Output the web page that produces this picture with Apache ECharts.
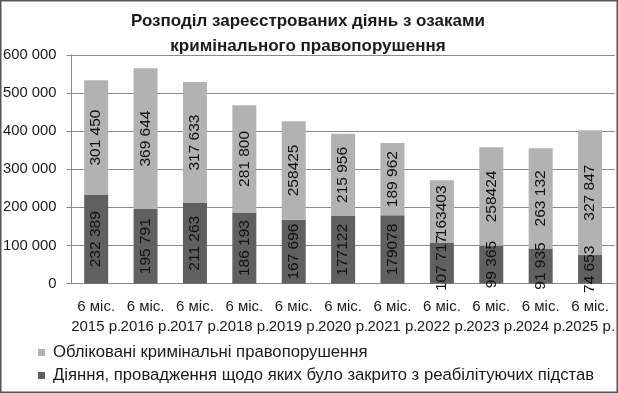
<!DOCTYPE html>
<html>
<head>
<meta charset="utf-8">
<script src="https://cdn.jsdelivr.net/npm/echarts@6/dist/echarts.min.js"></script>
<style>
html,body{margin:0;padding:0;background:#fff;}
#c{width:618px;height:393px;}
</style>
</head>
<body>
<div id="c"></div>
<script>
const categories = ["6 міс.\n2015 р.","6 міс.\n2016 р.","6 міс.\n2017 р.","6 міс.\n2018 р.","6 міс.\n2019 р.","6 міс.\n2020 р.","6 міс.\n2021 р.","6 міс.\n2022 р.","6 міс.\n2023 р.","6 міс.\n2024 р.","6 міс.\n2025 р."];
const closedValues = [232389,195791,211263,186193,167696,177122,179078,107717,99365,91935,74653];
const closedLabels = ["232 389","195 791","211 263","186 193","167 696","177122","179078","107 717","99 365","91 935","74 653"];
const recordedValues = [301450,369644,317633,281800,258425,215956,189962,163403,258424,263132,327847];
const recordedLabels = ["301 450","369 644","317 633","281 800","258425","215 956","189 962","163403","258424","263 132","327 847"];
const yTicks = [0,100000,200000,300000,400000,500000,600000];
const seriesNames = ["Обліковані кримінальні правопорушення","Діяння, провадження щодо яких було закрито з реабілітуючих підстав"];
const titleText = "Розподіл зареєстрованих діянь з озаками\nкримінального правопорушення";

const FONT = "Liberation Sans";
const chart = echarts.init(document.getElementById('c'), null, {renderer:'canvas'});
function fmt(v){ return v === 0 ? "0" : String(v).replace(/\B(?=(\d{3})+(?!\d))/g, " "); }
chart.setOption({
  animation:false,
  backgroundColor:'#fff',
  textStyle:{fontFamily:FONT},
  graphic:[{type:'rect', shape:{x:0.75,y:0.75,width:616.5,height:391.5}, style:{fill:null, stroke:'#555', lineWidth:1.5}, z:100}],
  title:{
    text:titleText, left:303, top:4, textAlign:'center',
    textStyle:{fontFamily:FONT, fontSize:17, fontWeight:'bold', color:'#1a1a1a', lineHeight:25}
  },
  legend:{
    orient:'vertical', left:33, top:339, itemWidth:7, itemHeight:7, itemGap:6,
    icon:'rect',
    data:[seriesNames[0], seriesNames[1]],
    textStyle:{fontFamily:FONT, fontSize:16.7, color:'#1a1a1a', lineHeight:17, padding:[0,0,0,3]}
  },
  grid:{left:70, right:3, top:55, bottom:109.5, containLabel:false},
  xAxis:{
    type:'category', data:categories,
    axisLine:{show:true, lineStyle:{color:'#888', width:1}},
    axisTick:{show:false},
    axisLabel:{interval:0, hideOverlap:false, margin:13.5, fontFamily:FONT, fontSize:15, lineHeight:20, color:'#1a1a1a'}
  },
  yAxis:{
    type:'value', min:yTicks[0], max:yTicks[yTicks.length-1], interval:yTicks[1]-yTicks[0],
    axisLine:{show:true, lineStyle:{color:'#888', width:1}},
    axisTick:{show:true, inside:false, length:5, lineStyle:{color:'#888'}},
    splitLine:{show:true, lineStyle:{color:'#8a8a8a', width:1}},
    axisLabel:{margin:15, fontFamily:FONT, fontSize:14.8, color:'#1a1a1a', formatter:fmt}
  },
  series:[
    {
      name:seriesNames[1], type:'bar', stack:'s', data:closedValues, barWidth:24,
      itemStyle:{color:'#606060'},
      label:{show:true, position:'inside', rotate:90, fontFamily:FONT, fontSize:15.5, color:'#111',
        formatter:p=>closedLabels[p.dataIndex]},
      labelLayout:{hideOverlap:false}
    },
    {
      name:seriesNames[0], type:'bar', stack:'s', data:recordedValues, barWidth:24,
      itemStyle:{color:'#b2b2b2'},
      label:{show:true, position:'inside', rotate:90, fontFamily:FONT, fontSize:15.5, color:'#111',
        formatter:p=>recordedLabels[p.dataIndex]},
      labelLayout:{hideOverlap:false}
    }
  ]
});
</script>
</body>
</html>
